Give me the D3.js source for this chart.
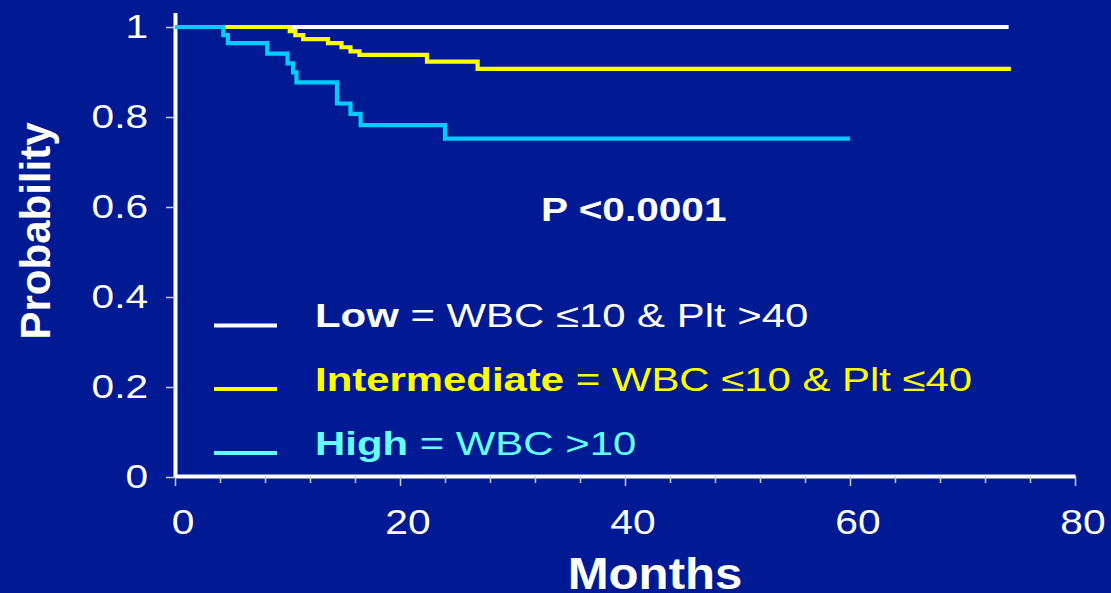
<!DOCTYPE html>
<html><head><meta charset="utf-8">
<script src="https://cdn.jsdelivr.net/npm/d3@7"></script>
<style>html,body{margin:0;padding:0;background:#001a94;overflow:hidden} svg{display:block}</style>
</head><body><svg id="c" width="1111" height="593"></svg>
<script>
// ---- data ----
const lowMonths = [0];
const lowSurv = [1.0];
const lowEnd = 74.1;
const intMonths = [0, 10.2, 10.7, 11.4, 13.6, 14.8, 15.6, 16.4, 22.4, 26.9];
const intSurv = [1.0, 0.991, 0.982, 0.973, 0.964, 0.955, 0.946, 0.938, 0.923, 0.907];
const intEnd = 74.3;
const highMonths = [0, 4.3, 4.7, 8.2, 10.0, 10.5, 10.8, 14.4, 15.6, 16.5, 24.0];
const highSurv = [1.0, 0.982, 0.964, 0.941, 0.919, 0.899, 0.877, 0.830, 0.807, 0.782, 0.752];
const highEnd = 60;
const xTickValues = [0, 4, 8, 12, 16, 20, 24, 28, 32, 36, 40, 44, 48, 52, 56, 60, 64, 68, 72, 76, 80];
const xTickLabels = [0, 20, 40, 60, 80];
const yTickValues = [0, 0.2, 0.4, 0.6, 0.8, 1];
const yTickLabels = ["0", "0.2", "0.4", "0.6", "0.8", "1"];
const legendNames = ["Low", "Intermediate", "High"];
const legendRules = ["= WBC \u226410 & Plt >40", "= WBC \u226410 & Plt \u226440", "= WBC >10"];
const pText = "P <0.0001";

// ---- style ----
const BG = "#001a94";
const curveColors = ["#ffffff", "#ffff00", "#00ccff"];
const legendColors = ["#ffffff", "#ffff00", "#66ffff"];
const FONT = "'Liberation Sans', Arial, Helvetica, sans-serif";

const svg = d3.select("#c");
svg.append("rect").attr("width", 1111).attr("height", 593).attr("fill", BG);

const x = d3.scaleLinear().domain([0, 80]).range([175, 1075]);
const y = d3.scaleLinear().domain([0, 1.032]).range([477, 12.6]);

// x axis
const xAxisG = svg.append("g").attr("transform", "translate(0,476)")
  .call(d3.axisBottom(x).tickValues(xTickValues).tickSize(8).tickFormat("").tickSizeOuter(0));
xAxisG.select(".domain").attr("stroke", "#ffffff").attr("stroke-width", 4);
xAxisG.selectAll(".tick line").attr("stroke", "#c8cce0").attr("stroke-width", 1.5)
  .attr("y2", d => (d % 20 === 0 ? 10 : 7));

// y axis
const yAxisG = svg.append("g").attr("transform", "translate(175,0)")
  .call(d3.axisLeft(y).tickValues(yTickValues).tickSize(9).tickFormat("").tickSizeOuter(0));
yAxisG.select(".domain").attr("stroke", "#ffffff").attr("stroke-width", 4);
yAxisG.selectAll(".tick line").attr("stroke", "#c8cce0").attr("stroke-width", 1.5);

// stretched text helper
function stext(g, tx, ty, sx, txt, opts) {
  return g.append("text")
    .attr("transform", `translate(${tx},${ty}) scale(${sx},1)`)
    .attr("font-family", FONT)
    .attr("font-size", opts.size)
    .attr("font-weight", opts.weight || "normal")
    .attr("fill", opts.fill || "#ffffff")
    .attr("text-anchor", opts.anchor || "start")
    .text(txt);
}

// y tick labels
yTickValues.forEach((v, i) => {
  stext(svg, 148, y(v) + 11, 1.25, yTickLabels[i], {size: 32.5, anchor: "end"});
});
// x tick labels
xTickLabels.forEach(v => {
  stext(svg, x(v) + 8, 534, 1.18, String(v), {size: 34.5, anchor: "middle"});
});

// axis titles
stext(svg, 655, 589, 1.13, "Months", {size: 43.5, weight: "bold", anchor: "middle"});
svg.append("text")
  .attr("transform", "translate(50,231) rotate(-90)")
  .attr("font-family", FONT).attr("font-size", 42).attr("font-weight", "bold")
  .attr("fill", "#ffffff").attr("text-anchor", "middle").text("Probability");

// curves
const line = d3.line().x(d => x(d[0])).y(d => y(d[1])).curve(d3.curveStepAfter);
function series(months, surv, end) {
  const pts = months.map((m, i) => [m, surv[i]]);
  pts.push([end, surv[surv.length - 1]]);
  return pts;
}
const allSeries = [
  series(lowMonths, lowSurv, lowEnd),
  series(intMonths, intSurv, intEnd),
  series(highMonths, highSurv, highEnd)
];
allSeries.forEach((pts, i) => {
  svg.append("path").attr("d", line(pts)).attr("fill", "none")
    .attr("stroke", curveColors[i]).attr("stroke-width", 4.2)
    .attr("stroke-linejoin", "miter").attr("stroke-linecap", "butt");
});

// p-value
stext(svg, 541, 221, 1.25, pText, {size: 32.5, weight: "bold"});

// legend
const legendY = [325.5, 389, 453];
legendNames.forEach((name, i) => {
  const ly = legendY[i];
  svg.append("line").attr("x1", 214).attr("x2", 277).attr("y1", ly).attr("y2", ly)
    .attr("stroke", legendColors[i]).attr("stroke-width", 4);
  const t = svg.append("text")
    .attr("transform", `translate(315,${ly + 1.5}) scale(1.27,1)`)
    .attr("font-family", FONT).attr("font-size", 33).attr("fill", legendColors[i]);
  t.append("tspan").attr("font-weight", "bold").text(name);
  t.append("tspan").text(" " + legendRules[i]);
});
</script>
</body></html>
